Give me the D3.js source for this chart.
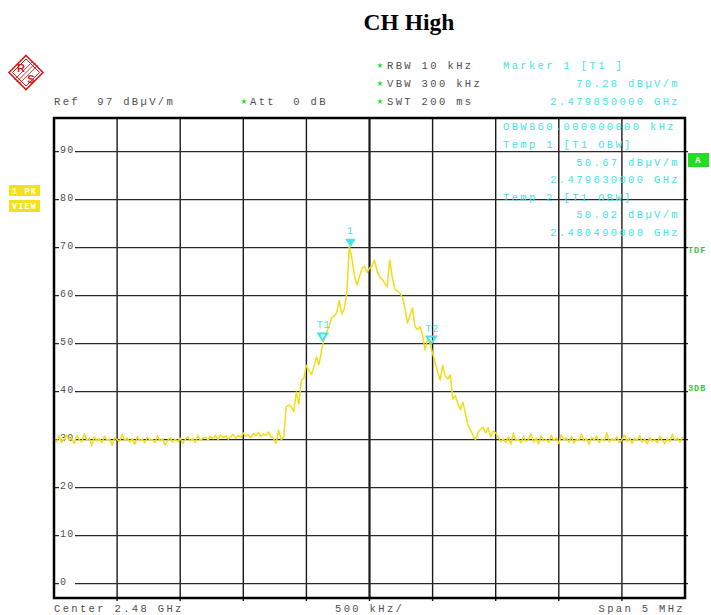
<!DOCTYPE html>
<html>
<head>
<meta charset="utf-8">
<script src="https://cdn.jsdelivr.net/npm/d3@7"></script>
<style>
  html, body { margin: 0; padding: 0; background: #ffffff; }
  svg { display: block; }
  .mono { font-family: "Liberation Mono", "DejaVu Sans Mono", monospace; font-size: 10.5px; letter-spacing: 2.35px; white-space: pre; }
</style>
</head>
<body>
<svg id="chart" width="711" height="615"></svg>
<script>
// ---------------- DATA ----------------
const chartTitle = "CH High";
const centerGHz = 2.48;
const spanMHz = 5;
const refLevel = 97;          // dBµV/m (top of screen)
const dbPerDiv = 10;
const yTickLabels = [90, 80, 70, 60, 50, 40, 30, 20, 10, 0];
const xDivisions = 10;
// sweep: 251 points from 2.4775 GHz to 2.4825 GHz (20 kHz step)
const sweepStartGHz = 2.4775;
const sweepStopGHz = 2.4825;
const traceLevels = [
  30.2,29.6,30.8,29.4,30.1,31.0,29.8,30.4,29.2,30.9,30.0,29.5,31.2,29.9,30.3,28.8,30.6,29.7,30.2,29.4,
  30.7,29.9,30.1,28.9,30.4,30.0,29.6,31.1,29.8,30.3,29.5,30.2,29.0,30.6,29.8,30.1,29.3,30.5,29.9,30.0,
  29.4,30.8,29.7,30.2,28.9,29.8,30.4,29.5,30.1,29.6,30.3,29.2,30.0,30.6,29.7,30.2,29.4,30.9,29.8,30.3,
  30.5,29.9,30.7,30.2,30.9,30.0,31.0,30.4,30.8,30.1,30.6,31.1,30.3,30.9,30.5,31.4,30.7,31.0,30.4,31.3,
  30.8,31.5,30.6,31.2,30.9,31.6,30.5,30.2,29.2,32.0,30.0,30.5,
  36.8,37.2,36.9,35.8,39.9,37.4,
  42.4,42.8,45.5,44.3,43.6,45.2,47.2,45.6,48.6,51.0,52.4,53.6,55.3,
  55.8,56.4,59.0,56.2,57.2,60.5,
  70.28,
  67.8,64.3,62.2,63.8,65.6,66.1,64.8,65.7,66.2,67.4,65.1,63.9,63.4,62.6,61.8,67.4,63.9,61.4,61.0,60.5,
  59.7,57.5,54.3,55.8,57.4,53.6,52.9,53.5,51.8,48.7,51.0,50.02,48.0,
  46.0,44.1,42.4,45.5,43.2,42.6,43.5,38.5,39.2,37.5,36.2,37.8,35.4,33.0,32.1,30.8,30.0,31.5,32.2,32.6,
  31.4,32.5,30.6,31.8,31.4,30.5,29.6,
  30.2,29.4,30.6,29.0,31.3,29.8,30.1,29.3,30.7,29.6,30.0,31.2,29.5,30.3,29.1,30.8,29.7,30.0,29.4,30.9,
  29.8,30.4,29.2,31.0,29.9,30.3,29.5,30.6,29.3,30.1,29.8,31.1,29.6,30.2,29.0,30.5,29.9,30.7,29.4,30.1,
  29.7,31.4,29.5,30.2,29.8,30.6,29.3,30.0,31.0,29.6,30.4,29.2,30.3,29.8,30.8,29.5,30.1,29.1,30.4,29.7,
  30.0,29.3,30.6,29.8,29.2,30.2,29.6,31.1,29.9,30.3,29.5,30.4,30.1
];
const markers = [
  { label: "1",  freqGHz: 2.47985, level: 70.28, filled: true },
  { label: "T1", freqGHz: 2.47963, level: 50.67, filled: false },
  { label: "T2", freqGHz: 2.48049, level: 50.02, filled: false }
];
const headerLeft = ["Ref  97 dBµV/m"];
const headerAtt = "Att  0 dB";
const headerSettings = ["RBW 10 kHz", "VBW 300 kHz", "SWT 200 ms"];
const markerInfo = ["Marker 1 [T1 ]", "70.28 dBµV/m", "2.479850000 GHz"];
const obwInfo = ["OBW860.000000000 kHz", "Temp 1 [T1 OBW]", "50.67 dBµV/m", "2.479630000 GHz",
                 "Temp 2 [T1 OBW]", "50.02 dBµV/m", "2.480490000 GHz"];
const footer = ["Center 2.48 GHz", "500 kHz/", "Span 5 MHz"];

// ---------------- LAYOUT ----------------
const svg = d3.select("#chart");
const plot = { left: 54, right: 685, top: 118, bottom: 598 };
const x = d3.scaleLinear().domain([centerGHz - spanMHz / 2000, centerGHz + spanMHz / 2000]).range([plot.left, plot.right]);
const y = d3.scaleLinear().domain([refLevel - dbPerDiv * 10, refLevel]).range([plot.bottom, plot.top]);
const textGray = "#505050";
const cyan = "#44e4e4";
const green = "#22dd22";
const yellow = "#f2e21e";
const traceColor = "#f2dc1a";

// Title
svg.append("text").attr("x", 409).attr("y", 30).attr("text-anchor", "middle")
  .attr("font-family", "'Liberation Serif', 'Times New Roman', serif")
  .attr("font-weight", "bold").attr("font-size", 23.5).attr("fill", "#000").text(chartTitle);

// R&S logo
const logo = svg.append("g").attr("transform", "translate(26,72.5)");
const dia = r => `M0,${-r}L${r},0L0,${r}L${-r},0Z`;
logo.append("path").attr("d", dia(17)).attr("fill", "none").attr("stroke", "#cc1f1f").attr("stroke-width", 1.6);
logo.append("path").attr("d", dia(13.5)).attr("fill", "none").attr("stroke", "#cc1f1f").attr("stroke-width", 1);
[-2.2, 0, 2.2].forEach(o => {
  logo.append("line").attr("x1", -9.5 + o).attr("y1", 9.5 + o).attr("x2", 9.5 + o).attr("y2", -9.5 + o)
    .attr("stroke", "#cc1f1f").attr("stroke-width", 0.9);
});
logo.append("text").attr("x", -5).attr("y", -0.5).attr("text-anchor", "middle").attr("font-family", "'Liberation Sans', Arial, sans-serif")
  .attr("font-weight", "bold").attr("font-size", 11).attr("fill", "#cc1f1f").text("R");
logo.append("text").attr("x", 5).attr("y", 10).attr("text-anchor", "middle").attr("font-family", "'Liberation Sans', Arial, sans-serif")
  .attr("font-weight", "bold").attr("font-size", 11).attr("fill", "#cc1f1f").text("S");

// Header text
const star = (cx, cy) => svg.append("path").attr("transform", `translate(${cx},${cy})`)
  .attr("d", d3.symbol(d3.symbolStar, 10)()).attr("fill", green);

svg.append("text").attr("class", "mono").attr("x", 54).attr("y", 105).attr("fill", textGray).text(headerLeft[0]);
star(244, 101.5);
svg.append("text").attr("class", "mono").attr("x", 250).attr("y", 105).attr("fill", textGray).text(headerAtt);
const rowY = [69, 87, 105];
headerSettings.forEach((t, i) => {
  star(380, rowY[i] - 3.5);
  svg.append("text").attr("class", "mono").attr("x", 387).attr("y", rowY[i]).attr("fill", textGray).text(t);
});
svg.append("text").attr("class", "mono").attr("x", 503).attr("y", rowY[0]).attr("fill", cyan).text(markerInfo[0]);
svg.append("text").attr("class", "mono").attr("x", 680).attr("y", rowY[1]).attr("text-anchor", "end").attr("fill", cyan).text(markerInfo[1]);
svg.append("text").attr("class", "mono").attr("x", 680).attr("y", rowY[2]).attr("text-anchor", "end").attr("fill", cyan).text(markerInfo[2]);

// Side labels
const sideBox = (bx, by, w, h, fill, label, fs) => {
  svg.append("rect").attr("x", bx).attr("y", by).attr("width", w).attr("height", h).attr("fill", fill);
  svg.append("text").attr("x", bx + w / 2).attr("y", by + h / 2 + 3).attr("text-anchor", "middle")
    .attr("font-family", "'Liberation Mono', monospace").attr("font-weight", "bold").attr("font-size", fs)
    .attr("letter-spacing", 1.2).attr("fill", "#ffffff").text(label);
};
sideBox(9, 185, 31, 11, yellow, "1 PK", 8.5);
sideBox(9, 200, 31, 12, yellow, "VIEW", 8.5);
sideBox(688, 153, 21, 14, green, "A", 8.5);
svg.append("text").attr("x", 688).attr("y", 253).attr("font-family", "'Liberation Mono', monospace").attr("font-weight", "bold")
  .attr("font-size", 8.5).attr("letter-spacing", 1).attr("fill", "#33cc33").text("TDF");
svg.append("text").attr("x", 688).attr("y", 391).attr("font-family", "'Liberation Mono', monospace").attr("font-weight", "bold")
  .attr("font-size", 8.5).attr("letter-spacing", 1).attr("fill", "#33cc33").text("3DB");

// Grid
const grid = svg.append("g");
const xTicks = d3.range(1, xDivisions).map(i => x.domain()[0] + i * (x.domain()[1] - x.domain()[0]) / xDivisions);
grid.selectAll("line.v").data(xTicks).join("line").attr("class", "v")
  .attr("x1", d => x(d)).attr("x2", d => x(d)).attr("y1", plot.top).attr("y2", plot.bottom)
  .attr("stroke", "#1a1a1a").attr("stroke-width", (d, i) => i === 4 ? 2.2 : 1.4);
grid.selectAll("line.h").data(yTickLabels).join("line").attr("class", "h")
  .attr("x1", plot.left).attr("x2", plot.right + 3).attr("y1", d => y(d)).attr("y2", d => y(d))
  .attr("stroke", "#2a2a2a").attr("stroke-width", 1.4);
grid.selectAll("line.vt").data(xTicks).join("line").attr("class", "vt")
  .attr("x1", d => x(d)).attr("x2", d => x(d)).attr("y1", plot.bottom).attr("y2", plot.bottom + 3)
  .attr("stroke", "#1a1a1a").attr("stroke-width", 1.4);
// y labels with white gap
const yl = svg.append("g");
yl.selectAll("rect").data(yTickLabels).join("rect")
  .attr("x", plot.left + 5).attr("y", d => y(d) - 5).attr("width", 16).attr("height", 8).attr("fill", "#fff");
yl.selectAll("text").data(yTickLabels).join("text")
  .attr("x", plot.left + 6).attr("y", d => y(d) + 1).attr("font-family", "'Liberation Mono', monospace")
  .attr("font-size", 10).attr("letter-spacing", 1.3).attr("fill", textGray).text(d => d);

// OBW info (inside plot)
const obwY = [129.5, 148, 165.5, 183, 200.5, 218, 235.5];
obwInfo.forEach((t, i) => {
  const right = (i === 2 || i === 3 || i === 5 || i === 6);
  svg.append("text").attr("class", "mono").attr("x", right ? 680 : 503).attr("y", obwY[i])
    .attr("text-anchor", right ? "end" : "start").attr("fill", cyan).text(t);
});

// Trace
const n = traceLevels.length;
const freqs = traceLevels.map((_, i) => sweepStartGHz + i * (sweepStopGHz - sweepStartGHz) / (n - 1));
const line = d3.line().x((d, i) => x(freqs[i])).y(d => y(d));
svg.append("path").datum(traceLevels).attr("d", line).attr("fill", "none")
  .attr("stroke", traceColor).attr("stroke-width", 1.5).attr("stroke-linejoin", "round");

// Markers
const mk = svg.append("g");
markers.forEach(m => {
  const mx = x(m.freqGHz), my = y(m.level);
  mk.append("path").attr("d", `M${mx},${my}L${mx - 4.5},${my - 7}L${mx + 4.5},${my - 7}Z`)
    .attr("fill", m.filled ? cyan : "none").attr("stroke", cyan).attr("stroke-width", m.filled ? 1 : 2);
  mk.append("text").attr("x", mx + (m.filled ? 0 : 1)).attr("y", my - 12).attr("text-anchor", "middle")
    .attr("font-family", "'Liberation Mono', monospace").attr("font-size", 10).attr("letter-spacing", 1)
    .attr("fill", cyan).text(m.label);
});

// Frame
svg.append("rect").attr("x", plot.left).attr("y", plot.top).attr("width", plot.right - plot.left)
  .attr("height", plot.bottom - plot.top).attr("fill", "none").attr("stroke", "#000").attr("stroke-width", 2.5);

// Footer
svg.append("text").attr("class", "mono").attr("x", 54).attr("y", 612).attr("fill", textGray).text(footer[0]);
svg.append("text").attr("class", "mono").attr("x", 335).attr("y", 612).attr("fill", textGray).text(footer[1]);
svg.append("text").attr("class", "mono").attr("x", 685).attr("y", 612).attr("text-anchor", "end").attr("fill", textGray).text(footer[2]);
</script>
</body>
</html>
